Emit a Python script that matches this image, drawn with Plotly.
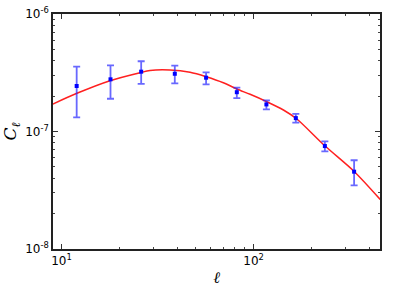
import plotly.graph_objects as go

# Binned data points
ell = [12.0, 18.0, 26.0, 38.9, 56.6, 81.8, 116.6, 165.9, 235.0, 333.6]
cl = [2.44e-7, 2.78e-7, 3.23e-7, 3.10e-7, 2.87e-7, 2.16e-7, 1.70e-7, 1.30e-7, 7.52e-8, 4.55e-8]
cl_upper = [3.56e-7, 3.66e-7, 3.96e-7, 3.63e-7, 3.19e-7, 2.36e-7, 1.84e-7, 1.41e-7, 8.25e-8, 5.69e-8]
cl_lower = [1.32e-7, 1.90e-7, 2.54e-7, 2.57e-7, 2.52e-7, 1.92e-7, 1.545e-7, 1.19e-7, 6.78e-8, 3.48e-8]

# Theory curve samples
ell_curve = [9.03, 12.04, 17.89, 25.64, 28.9, 36.7, 46.7, 56.6, 69.6, 81.8, 95.9, 117.2, 143.0,
             167.9, 235.7, 333.8, 456.0]
cl_curve = [1.714e-7, 2.114e-7, 2.705e-7, 3.164e-7, 3.305e-7, 3.337e-7, 3.19e-7, 2.926e-7, 2.602e-7,
            2.300e-7, 2.073e-7, 1.793e-7, 1.524e-7, 1.278e-7, 7.52e-8, 4.57e-8, 2.64e-8]

x_tickvals = [10, 100]
x_ticktext = ["10<sup>1</sup>", "10<sup>2</sup>"]
y_tickvals = [1e-8, 1e-7, 1e-6]
y_ticktext = ["10<sup>-8</sup>", "10<sup>-7</sup>", "10<sup>-6</sup>"]

err_plus = [u - c for u, c in zip(cl_upper, cl)]
err_minus = [c - l for c, l in zip(cl, cl_lower)]

x_minor = [m * 10 ** d for d in (0, 1, 2) for m in range(2, 10)]
y_minor = [m * 10.0 ** d for d in (-8, -7) for m in range(2, 10)]

fig = go.Figure()
fig.add_trace(go.Scatter(
    x=ell_curve, y=cl_curve, mode="lines",
    line=dict(color="#ff2020", width=1.5, shape="spline", smoothing=0.8),
    showlegend=False, hoverinfo="skip"))
fig.add_trace(go.Scatter(
    x=ell, y=cl, mode="markers",
    marker=dict(color="#0000ff", size=4, symbol="square"),
    error_y=dict(type="data", symmetric=False, array=err_plus, arrayminus=err_minus,
                 color="rgba(40,40,255,0.7)", thickness=1.8, width=3.5),
    showlegend=False))

axis_common = dict(
    showgrid=False, zeroline=False, showline=True, linecolor="#222", linewidth=1.5,
    mirror="ticks", ticks="inside", ticklen=5, tickcolor="#333", tickwidth=1,
    tickfont=dict(family="DejaVu Sans", size=12, color="black"), automargin=False,
)

fig.update_xaxes(type="log", range=[0.956, 2.658], tickvals=x_tickvals, ticktext=x_ticktext,
                 minor=dict(tickvals=x_minor, ticks="inside", ticklen=2.5, tickcolor="#444", tickwidth=1),
                 title=dict(text="<i>ℓ</i>", font=dict(family="DejaVu Serif", size=16, color="black"), standoff=5),
                 **axis_common)
fig.update_yaxes(type="log", range=[-8, -6], tickvals=y_tickvals, ticktext=y_ticktext,
                 minor=dict(tickvals=y_minor, ticks="inside", ticklen=2.5, tickcolor="#444", tickwidth=1),
                 title=dict(text="<i>C<sub>ℓ</sub></i>", font=dict(family="DejaVu Serif", size=17, color="black"), standoff=6),
                 **axis_common)

fig.update_layout(
    width=399, height=298,
    margin=dict(l=53, r=19, t=14, b=49),
    plot_bgcolor="white", paper_bgcolor="white",
)

fig.write_html("out.html", config={"displayModeBar": False},
               post_script="document.body.style.margin='0';")
